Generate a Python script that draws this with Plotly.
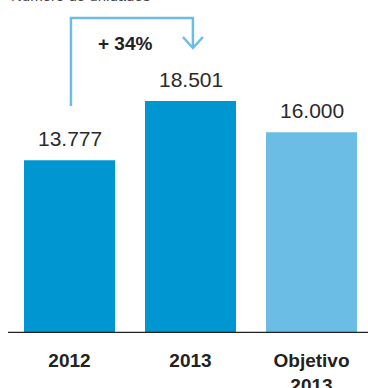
import plotly.graph_objects as go

categories = ["2012", "2013", "Objetivo<br>2013"]
values = [13777, 18501, 16000]
value_labels = ["13.777", "18.501", "16.000"]
bar_colors = ["#0096d2", "#0096d2", "#6bbde6"]
title = "Número de unidades"
change_label = "+ 34%"

W, H = 368, 388
fig = go.Figure()
fig.add_trace(go.Bar(
    x=[0, 1, 2], y=values, width=0.752,
    marker=dict(color=bar_colors, line=dict(width=0)),
    hoverinfo="skip",
))

for i, (v, lab) in enumerate(zip(values, value_labels)):
    fig.add_annotation(x=i, y=v, xref="x", yref="y", text=lab, showarrow=False,
                       font=dict(family="Liberation Sans, Arial", size=21, color="#2b2b2b"),
                       xanchor="center", yanchor="bottom", yshift=8)

x0 = -69.5 / 121
x1 = x0 + W / 121
ymax = 333 / (232 / 18501)

fig.update_layout(
    width=W, height=H,
    margin=dict(l=0, r=0, t=0, b=H - 333),
    plot_bgcolor="white", paper_bgcolor="white",
    showlegend=False,
    xaxis=dict(range=[x0, x1], showgrid=False, zeroline=False, showline=False,
               automargin=False,
               tickmode="array", tickvals=[0, 1, 2],
               ticktext=["<b>" + c.replace("<br>", "</b><br><b>") + "</b>" for c in categories],
               tickfont=dict(family="Liberation Sans, Arial", size=19, color="#222"),
               ticks="", ticklabelstandoff=14),
    yaxis=dict(range=[0, ymax], visible=False, automargin=False),
)

# baseline
fig.add_shape(type="line", xref="paper", yref="y", x0=8 / W, x1=1, y0=0, y1=0,
              line=dict(color="#222", width=2.5))

# arrow path from 2012 to 2013
py = lambda p: (333 - p) / (232 / 18501)
ax0 = 0.012
ax1 = 1.02
c = "#6bbde6"
fig.add_shape(type="path", xref="x", yref="y",
              path=f"M {ax0},{py(106)} L {ax0},{py(18)} L {ax1},{py(18)} L {ax1},{py(47)}",
              line=dict(color=c, width=2.5))
fig.add_shape(type="path", xref="x", yref="y",
              path=f"M {ax1 - 10/121},{py(37)} L {ax1},{py(48)} L {ax1 + 10/121},{py(37)}",
              line=dict(color=c, width=2.5))

fig.add_annotation(x=0.5, y=py(43), xref="x", yref="y", text="<b>" + change_label + "</b>",
                   showarrow=False, font=dict(family="Liberation Sans, Arial", size=19, color="#222"),
                   xanchor="center", yanchor="middle", xshift=-4.5)

fig.add_annotation(x=9 / W, y=1 - 6 / 333, xref="paper", yref="paper", text=title,
                   showarrow=False, font=dict(family="Liberation Sans, Arial", size=15, color="#444"),
                   xanchor="left", yanchor="bottom")

fig.write_html("out.html")
